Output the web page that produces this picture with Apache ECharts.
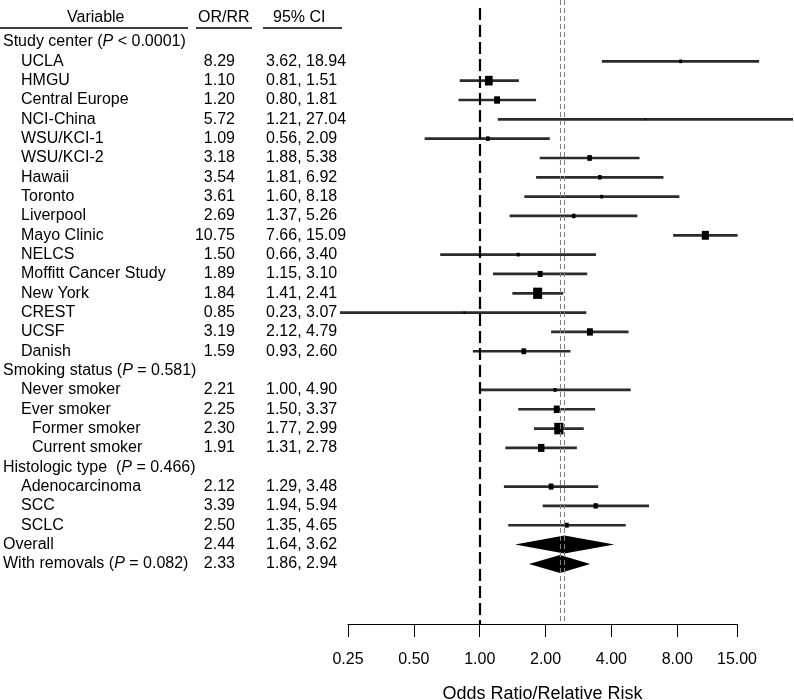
<!DOCTYPE html>
<html><head><meta charset="utf-8">
<script src="https://cdn.jsdelivr.net/npm/echarts@6/dist/echarts.min.js"></script>
<style>html,body{margin:0;padding:0;background:#fff}#c{width:794px;height:700px}</style>
</head><body><div id="c"></div>
<script>
// ---- data ----
const rowLabels = ['Study center (P < 0.0001)','UCLA','HMGU','Central Europe','NCI-China','WSU/KCI-1','WSU/KCI-2','Hawaii','Toronto','Liverpool','Mayo Clinic','NELCS','Moffitt Cancer Study','New York','CREST','UCSF','Danish','Smoking status (P = 0.581)','Never smoker','Ever smoker','Former smoker','Current smoker','Histologic type  (P = 0.466)','Adenocarcinoma','SCC','SCLC','Overall','With removals (P = 0.082)'];
const indentLevel = [0,1,1,1,1,1,1,1,1,1,1,1,1,1,1,1,1,0,1,1,2,2,0,1,1,1,0,0];
const orValues = [null,8.29,1.10,1.20,5.72,1.09,3.18,3.54,3.61,2.69,10.75,1.50,1.89,1.84,0.85,3.19,1.59,null,2.21,2.25,2.30,1.91,null,2.12,3.39,2.50,2.44,2.33];
const ciLow  = [null,3.62,0.81,0.80,1.21,0.56,1.88,1.81,1.60,1.37,7.66,0.66,1.15,1.41,0.23,2.12,0.93,null,1.00,1.50,1.77,1.31,null,1.29,1.94,1.35,1.64,1.86];
const ciHigh = [null,18.94,1.51,1.81,27.04,2.09,5.38,6.92,8.18,5.26,15.09,3.40,3.10,2.41,3.07,4.79,2.60,null,4.90,3.37,2.99,2.78,null,3.48,5.94,4.65,3.62,2.94];
const summaryRows = [26,27];
const diamondLow = [1.45,1.68];
const diamondHigh = [4.12,3.20];
const nullValue = 1;
const tickValues = [0.25,0.50,1.00,2.00,4.00,8.00,15.00];
const axisTitle = 'Odds Ratio/Relative Risk';
const headers = ['Variable','OR/RR','95% CI'];

// ---- build ----
const FONT = "'Liberation Sans', Arial, sans-serif";
const forestData = [];
for (let i = 0; i < rowLabels.length; i++) {
  if (orValues[i] != null && summaryRows.indexOf(i) < 0) forestData.push([orValues[i], i, ciLow[i], ciHigh[i]]);
}
const diamondData = summaryRows.map((r, k) => [orValues[r], r, diamondLow[k], diamondHigh[k]]);
const tableData = rowLabels.map((_, i) => [1, i]);

function richLabel(s) {
  const k = s.indexOf('(P');
  if (k < 0) return '{n|' + s + '}';
  return '{n|' + s.slice(0, k + 1) + '}{i|P}{n|' + s.slice(k + 2) + '}';
}
const indentPx = [3, 21, 32];
const yMin = -2.173, yMax = 30.11;

const chart = echarts.init(document.getElementById('c'), null, {renderer: 'canvas'});
chart.setOption({
  animation: false,
  backgroundColor: '#fff',
  grid: {left: 348, right: 57, top: 0, bottom: 76, containLabel: false, outerBoundsMode: 'none'},
  xAxis: {
    type: 'log', logBase: 2, min: tickValues[0], max: tickValues[tickValues.length - 1], interval: 1,
    splitLine: {show: false},
    axisLine: {onZero: false, lineStyle: {color: '#000', width: 1}},
    axisTick: {show: true, length: 13, lineStyle: {color: '#000', width: 1}},
    axisLabel: {color: '#000', fontFamily: FONT, fontSize: 16, margin: 28, showMinLabel: true, showMaxLabel: true,
      formatter: v => Number(v).toFixed(2)},
    name: axisTitle, nameLocation: 'middle', nameGap: 61,
    nameTextStyle: {color: '#000', fontFamily: FONT, fontSize: 18}
  },
  yAxis: {type: 'value', inverse: true, min: yMin, max: yMax, show: false},
  graphic: [
    {type: 'text', left: 67, top: 10, style: {text: headers[0], font: '16px ' + FONT, fill: '#000'}},
    {type: 'text', left: 198, top: 10, style: {text: headers[1], font: '16px ' + FONT, fill: '#000'}},
    {type: 'text', left: 273, top: 10, style: {text: headers[2], font: '16px ' + FONT, fill: '#000'}},
    {type: 'line', shape: {x1: 0, y1: 28, x2: 188, y2: 28}, style: {stroke: '#000', lineWidth: 1.5}},
    {type: 'line', shape: {x1: 196, y1: 28, x2: 252, y2: 28}, style: {stroke: '#000', lineWidth: 1.5}},
    {type: 'line', shape: {x1: 263, y1: 28, x2: 342, y2: 28}, style: {stroke: '#000', lineWidth: 1.5}}
  ],
  series: [
    {
      type: 'custom', name: 'forest', clip: false, data: forestData, encode: {x: 0, y: 1},
      renderItem: function (params, api) {
        const or = api.value(0), row = api.value(1), lo = api.value(2), hi = api.value(3);
        const a = api.coord([lo, row]), b = api.coord([hi, row]), c = api.coord([or, row]);
        const se = (Math.log(hi) - Math.log(lo)) / 3.92;
        const w = 1.23 / se, h = w * 1.25;
        return {type: 'group', children: [
          {type: 'line', shape: {x1: a[0], y1: a[1], x2: b[0], y2: b[1]}, style: {stroke: '#2b2b2b', lineWidth: 2.7}},
          {type: 'rect', shape: {x: c[0] - w / 2, y: c[1] - h / 2, width: w, height: h}, style: {fill: '#000'}}
        ]};
      },
      markLine: {
        symbol: 'none', silent: true, label: {show: false},
        data: [
          [{coord: [nullValue, -1.76], lineStyle: {color: '#000', width: 2.2, type: [12, 5]}}, {coord: [nullValue, yMax]}],
          [{coord: [orValues[26], yMin], lineStyle: {color: '#808080', width: 1.1, type: [5, 3]}}, {coord: [orValues[26], yMax]}],
          [{coord: [orValues[27], yMin], lineStyle: {color: '#808080', width: 1.1, type: [5, 3]}}, {coord: [orValues[27], yMax]}]
        ]
      }
    },
    {
      type: 'custom', name: 'summary', clip: false, data: diamondData, encode: {x: 0, y: 1},
      renderItem: function (params, api) {
        const or = api.value(0), row = api.value(1);
        const l = api.coord([api.value(2), row]), r = api.coord([api.value(3), row]), c = api.coord([or, row]);
        const hh = 9;
        return {type: 'polygon', shape: {points: [[l[0], c[1]], [c[0], c[1] - hh], [r[0], c[1]], [c[0], c[1] + hh]]}, style: {fill: '#000'}};
      }
    },
    {
      type: 'custom', name: 'table', clip: false, data: tableData, encode: {x: 0, y: 1},
      renderItem: function (params, api) {
        const i = params.dataIndex;
        const y = api.coord([1, api.value(1)])[1];
        const kids = [{
          type: 'text', x: indentPx[indentLevel[i]], y: y,
          style: {text: richLabel(rowLabels[i]), verticalAlign: 'middle', align: 'left',
            rich: {n: {fontFamily: FONT, fontSize: 16, fill: '#000'}, i: {fontFamily: FONT, fontSize: 16, fontStyle: 'italic', fill: '#000'}}}
        }];
        if (orValues[i] != null) {
          kids.push({type: 'text', x: 235, y: y, style: {text: orValues[i].toFixed(2), font: '16px ' + FONT, fill: '#000', align: 'right', verticalAlign: 'middle'}});
          kids.push({type: 'text', x: 266, y: y, style: {text: ciLow[i].toFixed(2) + ', ' + ciHigh[i].toFixed(2), font: '16px ' + FONT, fill: '#000', align: 'left', verticalAlign: 'middle'}});
        }
        return {type: 'group', children: kids};
      }
    }
  ]
});
</script></body></html>
